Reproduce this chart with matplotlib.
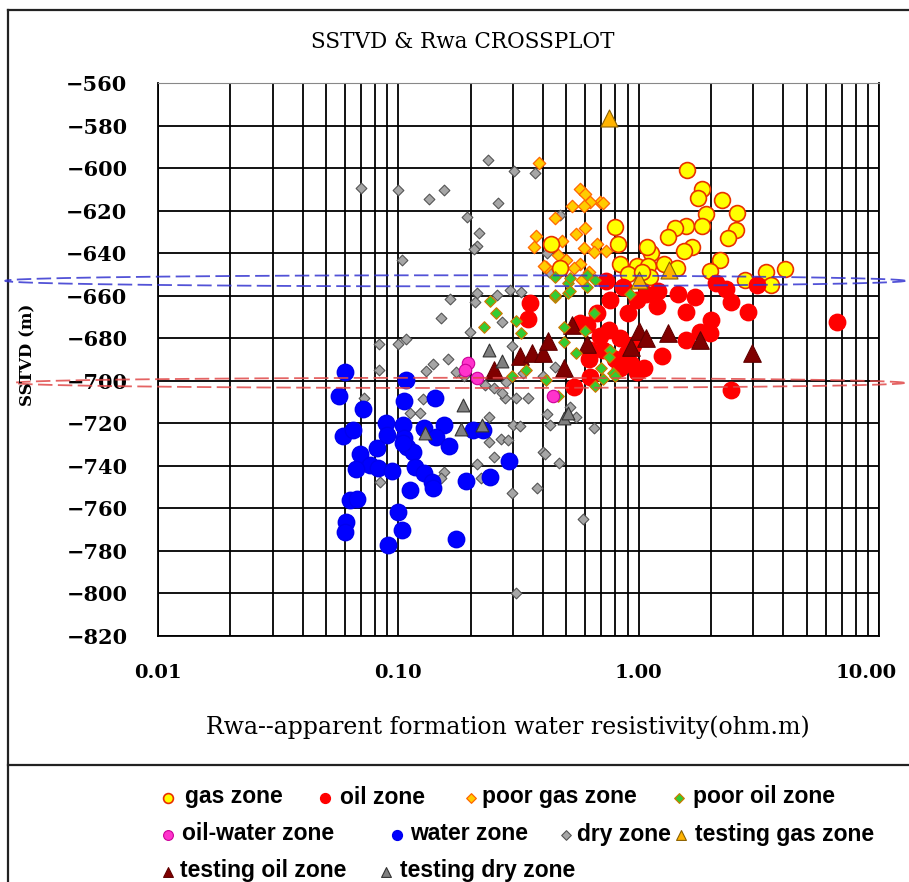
import numpy as np
import matplotlib.pyplot as plt
from matplotlib.ticker import NullFormatter
from matplotlib.transforms import blended_transform_factory, ScaledTranslation

# Rwa (ohm.m) and SSTVD (m) for every interpretation zone
gas_rwa = [1.59, 1.83, 1.76, 2.22, 2.56, 1.90, 1.58, 1.84, 1.42, 1.32, 2.54, 2.35, 1.67,
           1.55, 1.13, 1.08, 0.80, 0.82, 0.43, 0.47, 0.84, 0.98, 1.09, 1.27, 1.44, 2.18,
           1.99, 3.40, 4.06, 2.78, 3.55, 1.11, 0.90, 1.03]
gas_depth = [-601, -610, -614, -615, -621, -621.5, -627, -627, -628, -632.5, -629, -633, -637,
             -639, -640, -637, -627.5, -635.5, -635.5, -647, -645, -646, -646, -645, -647, -643,
             -648.5, -649, -647.5, -652.5, -655, -651, -650, -649]

oil_rwa = [0.354, 0.345, 0.57, 0.61, 0.69, 0.84, 0.63, 0.71, 0.89, 0.62, 0.93, 0.98, 0.63,
           0.54, 0.84, 0.73, 0.86, 0.98, 1.07, 1.20, 1.19, 1.46, 1.72, 1.58, 2.10, 2.30, 2.42,
           2.84, 3.10, 2.00, 1.98, 1.80, 1.58, 1.25, 2.42, 6.70, 0.67, 0.75, 0.80, 0.95, 1.05,
           0.76, 0.90]
oil_depth = [-663.6, -671, -673, -674, -679, -680, -685.5, -685.5, -687, -690, -692, -695.7, -698,
             -703, -694, -653, -656, -662, -659, -658, -665, -659, -660.5, -667.5, -654, -657, -663,
             -667.5, -655, -671.5, -677.7, -677, -681, -688.3, -704.3, -672.2, -668, -676, -690, -683, -694,
             -662, -668]

poor_gas_rwa = [0.386, 0.57, 0.60, 0.69, 0.71, 0.63, 0.53, 0.59, 0.45, 0.55, 0.60, 0.375, 0.366,
                0.48, 0.59, 0.67, 0.65, 0.73, 0.46, 0.50, 0.41, 0.57, 0.54, 0.62, 0.58, 0.405]
poor_gas_depth = [-597.7, -610, -612, -616, -616.5, -616, -618, -618, -623.5, -631, -628, -632, -637,
                  -634.5, -637.5, -635.5, -639.5, -639, -641, -643, -646.5, -645, -647, -649, -652.5, -646]

poor_oil_rwa = [0.24, 0.255, 0.227, 0.31, 0.325, 0.45, 0.51, 0.65, 0.60, 0.49, 0.49, 0.55, 0.76,
                0.75, 0.70, 0.78, 0.71, 0.66, 0.46, 0.41, 0.34, 0.297, 0.51, 0.61, 0.92, 0.45,
                0.52, 0.61, 0.66, 0.52, 0.45, 0.80]
poor_oil_depth = [-662.3, -668.3, -674.6, -671.7, -677.4, -660.4, -658.6, -668, -676.5, -682, -674.6, -686.8, -685.5,
                  -688.7, -694, -696.5, -699, -702.5, -707.2, -699.6, -695, -697.8, -654.2, -655.8, -659, -651,
                  -651.5, -650.3, -652.6, -658, -659.7, -697.8]

oil_water_rwa = [0.195, 0.19, 0.212, 0.44]
oil_water_depth = [-691.5, -694.8, -698.8, -707]

water_rwa = [0.060, 0.0567, 0.0715, 0.0587, 0.0646, 0.0889, 0.090, 0.1047, 0.106, 0.108, 0.106,
             0.142, 0.128, 0.155, 0.144, 0.163, 0.0813, 0.069, 0.076, 0.0665, 0.082, 0.094, 0.109,
             0.115, 0.117, 0.128, 0.138, 0.140, 0.112, 0.0627, 0.0671, 0.0606, 0.060, 0.100, 0.104,
             0.091, 0.174, 0.192, 0.24, 0.289, 0.205, 0.225, 0.105]
water_depth = [-696, -707, -713.5, -726, -723, -720, -725.5, -721, -727, -699.6, -709.4,
               -708, -722, -721, -726.3, -730.5, -731.8, -734.4, -739.6, -741.6, -741.1, -742.3, -731,
               -733.3, -740.4, -743.5, -747.4, -750.6, -751.3, -756, -755.7, -766.2, -771, -761.5, -770.2,
               -777.2, -774.5, -747.1, -745.1, -737.7, -723.1, -723.1, -729.4]

dry_rwa = [0.07, 0.10, 0.1346, 0.1545, 0.1937, 0.1036, 0.164, 0.151, 0.217, 0.212, 0.207, 0.212,
           0.209, 0.2355, 0.304, 0.371, 0.259, 0.257, 0.292, 0.323, 0.414, 0.425, 0.471, 0.269,
           0.199, 0.0831, 0.0993, 0.108, 0.298, 0.1606, 0.1396, 0.130, 0.173, 0.083, 0.188, 0.0723,
           0.127, 0.112, 0.123, 0.239, 0.300, 0.322, 0.239, 0.267, 0.287, 0.251, 0.398, 0.407,
           0.212, 0.464, 0.155, 0.151, 0.084, 0.22, 0.376, 0.298, 0.586, 0.172, 0.65, 0.428,
           0.414, 0.278, 0.308, 0.345, 0.269, 0.55, 0.52, 0.31, 0.28, 0.33, 0.23, 0.25, 0.40, 0.45]
dry_depth = [-609.3, -610.3, -614.4, -610.4, -623.1, -643.2, -661.7, -670.5, -630.7, -636.5, -638.2, -658.9,
             -662.8, -596.2, -601.4, -602.5, -616.3, -659.7, -657.3, -658.1, -640.1, -648.7, -622, -672.5,
             -676.9, -682.9, -682.9, -680.5, -683.5, -689.9, -692.2, -695.4, -695.7, -694.9, -697.8, -707.9,
             -708.7, -715, -715.3, -716.9, -720.8, -721.3, -729, -727.5, -727.8, -735.7, -733.3, -734.6,
             -739.3, -738.5, -743, -745.8, -747.7, -745.8, -750.3, -752.9, -765.1, -773.6, -722.3, -720.8,
             -715.8, -708.2, -708, -708.2, -705.9, -716.9, -712.5, -800, -700.4, -696.5, -702, -703.2, -697.8, -693.4]

test_gas_rwa = [0.75, 1.0, 1.34]
test_gas_depth = [-576.5, -652.5, -648]

test_oil_rwa = [0.25, 0.32, 0.36, 0.40, 0.42, 0.49, 0.53, 0.61, 0.93, 1.0, 1.07, 1.33, 1.8, 2.96]
test_oil_depth = [-695, -688.5, -687, -687, -681.5, -694, -673.8, -682.5, -684, -676.5, -680, -677.7, -680.8, -687]

test_dry_rwa = [0.238, 0.27, 0.186, 0.183, 0.129, 0.222, 0.49, 0.51]
test_dry_depth = [-685.7, -690.7, -711.4, -722.5, -724.7, -720.8, -717.7, -715]

# gas-oil and oil-water contacts
goc_depth = -653
owc_depth = -701

styles = {
    'dry zone': dict(marker='D', s=30, c='#a6a6a6', edgecolors='#555555', linewidths=0.8),
    'water zone': dict(marker='o', s=140, c='#0000ff', edgecolors='#0000ee', linewidths=1.0),
    'poor gas zone': dict(marker='D', s=40, c='#ffcc00', edgecolors='#ff6600', linewidths=0.9),
    'gas zone': dict(marker='o', s=130, c='#ffff00', edgecolors='#e83000', linewidths=1.2),
    'oil zone': dict(marker='o', s=140, c='#ff0000', edgecolors='#ff0000', linewidths=1.0),
    'testing oil zone': dict(marker='^', s=160, c='#800000', edgecolors='#600000', linewidths=0.8),
    'poor oil zone': dict(marker='D', s=34, c='#33cc33', edgecolors='#cc7a00', linewidths=0.9),
    'oil-water zone': dict(marker='o', s=80, c='#ff33cc', edgecolors='#cc0099', linewidths=0.8),
    'testing dry zone': dict(marker='^', s=85, c='#808080', edgecolors='#333333', linewidths=0.8),
    'testing gas zone': dict(marker='^', s=150, c='#ffb300', edgecolors='#8a6000', linewidths=0.8),
}

series = [
    ('dry zone', dry_rwa, dry_depth),
    ('water zone', water_rwa, water_depth),
    ('poor gas zone', poor_gas_rwa, poor_gas_depth),
    ('gas zone', gas_rwa, gas_depth),
    ('oil zone', oil_rwa, oil_depth),
    ('testing oil zone', test_oil_rwa, test_oil_depth),
    ('poor oil zone', poor_oil_rwa, poor_oil_depth),
    ('oil-water zone', oil_water_rwa, oil_water_depth),
    ('testing dry zone', test_dry_rwa, test_dry_depth),
    ('testing gas zone', test_gas_rwa, test_gas_depth),
]

W, H = 909, 882
fig = plt.figure(figsize=(W / 100, H / 100), dpi=100)

# background layer in pixel units for the frame and the key
bg = fig.add_axes([0, 0, 1, 1])
bg.set_xlim(0, W)
bg.set_ylim(H, 0)
bg.axis('off')
bg.plot([8, W + 5], [10, 10], color='#222222', lw=1.6)
bg.plot([8, 8], [10, H + 5], color='#222222', lw=1.6)
bg.plot([8, W + 5], [765, 765], color='#222222', lw=1.6)

ax = fig.add_axes([158 / W, 1 - 636 / H, 721 / W, 553 / H])
ax.set_xscale('log')
ax.set_xlim(0.01, 10)
ax.set_ylim(-820, -560)
ax.set_yticks(np.arange(-820, -559, 20))
ax.set_xticks([0.01, 0.1, 1, 10], ['0.01', '0.10', '1.00', '10.00'])
ax.xaxis.set_minor_formatter(NullFormatter())
ax.grid(True, which='both', axis='x', color='black', lw=1.3)
ax.grid(True, which='major', axis='y', color='black', lw=1.3)
ax.set_axisbelow(True)
ax.tick_params(which='both', length=0)
ax.tick_params(axis='y', pad=22, labelsize=15)
ax.tick_params(axis='x', pad=20, labelsize=14)
for lab in ax.get_xticklabels() + ax.get_yticklabels():
    lab.set_fontfamily('DejaVu Serif')
    lab.set_fontweight('bold')
# nudge the last label left so it stays inside the frame
last = ax.get_xticklabels()[-1]
last.set_transform(last.get_transform() + ScaledTranslation(-9 / 72, 0, fig.dpi_scale_trans))
for side in ['left', 'bottom', 'right']:
    ax.spines[side].set_color('black')
    ax.spines[side].set_linewidth(1.3)
ax.spines['top'].set_color('#888888')

for name, xs, ys in series:
    ax.scatter(xs, ys, zorder=3, **styles[name])

# contact lines drawn as long flat dashed loops
trans = blended_transform_factory(ax.transAxes, ax.transData)
t = np.linspace(0, 2 * np.pi, 600)
ax.plot(0.412 + 0.624 * np.cos(t), goc_depth + 2.6 * np.sin(t), transform=trans,
        clip_on=False, color='#3434d0', lw=1.3, ls=(0, (8, 3)), alpha=0.85, zorder=4)
ax.plot(0.418 + 0.617 * np.cos(t), owc_depth + 2.4 * np.sin(t), transform=trans,
        clip_on=False, color='#e04848', lw=1.3, ls=(0, (8, 3)), alpha=0.85, zorder=4)

fig.text(463 / W, 1 - 42 / H, 'SSTVD & Rwa CROSSPLOT', ha='center', va='center',
         family='DejaVu Serif', fontsize=15.5)
fig.text(508 / W, 1 - 727 / H, 'Rwa--apparent formation water resistivity(ohm.m)',
         ha='center', va='center', family='DejaVu Serif', fontsize=17)
fig.text(28 / W, 1 - 355 / H, 'SSTVD (m)', rotation=90, ha='center', va='center',
         family='DejaVu Serif', fontweight='bold', fontsize=12)

# key below the plot
key = [
    ('gas zone', 168, 185, 797), ('oil zone', 325, 340, 797),
    ('poor gas zone', 471, 482, 797), ('poor oil zone', 679, 693, 797),
    ('oil-water zone', 168, 182, 834), ('water zone', 397, 410, 834),
    ('dry zone', 566, 577, 834), ('testing gas zone', 681, 695, 834),
    ('testing oil zone', 168, 180, 871), ('testing dry zone', 386, 400, 871),
]
for name, mx, tx, ky in key:
    st = dict(styles[name])
    st['s'] = 50 if st['marker'] != 'D' else 24
    bg.scatter([mx], [ky + 1], **st)
    bg.text(tx, ky, name, ha='left', va='center', family='Liberation Sans',
            fontweight='bold', fontsize=16.5)

fig.savefig('out.png', dpi=100)
